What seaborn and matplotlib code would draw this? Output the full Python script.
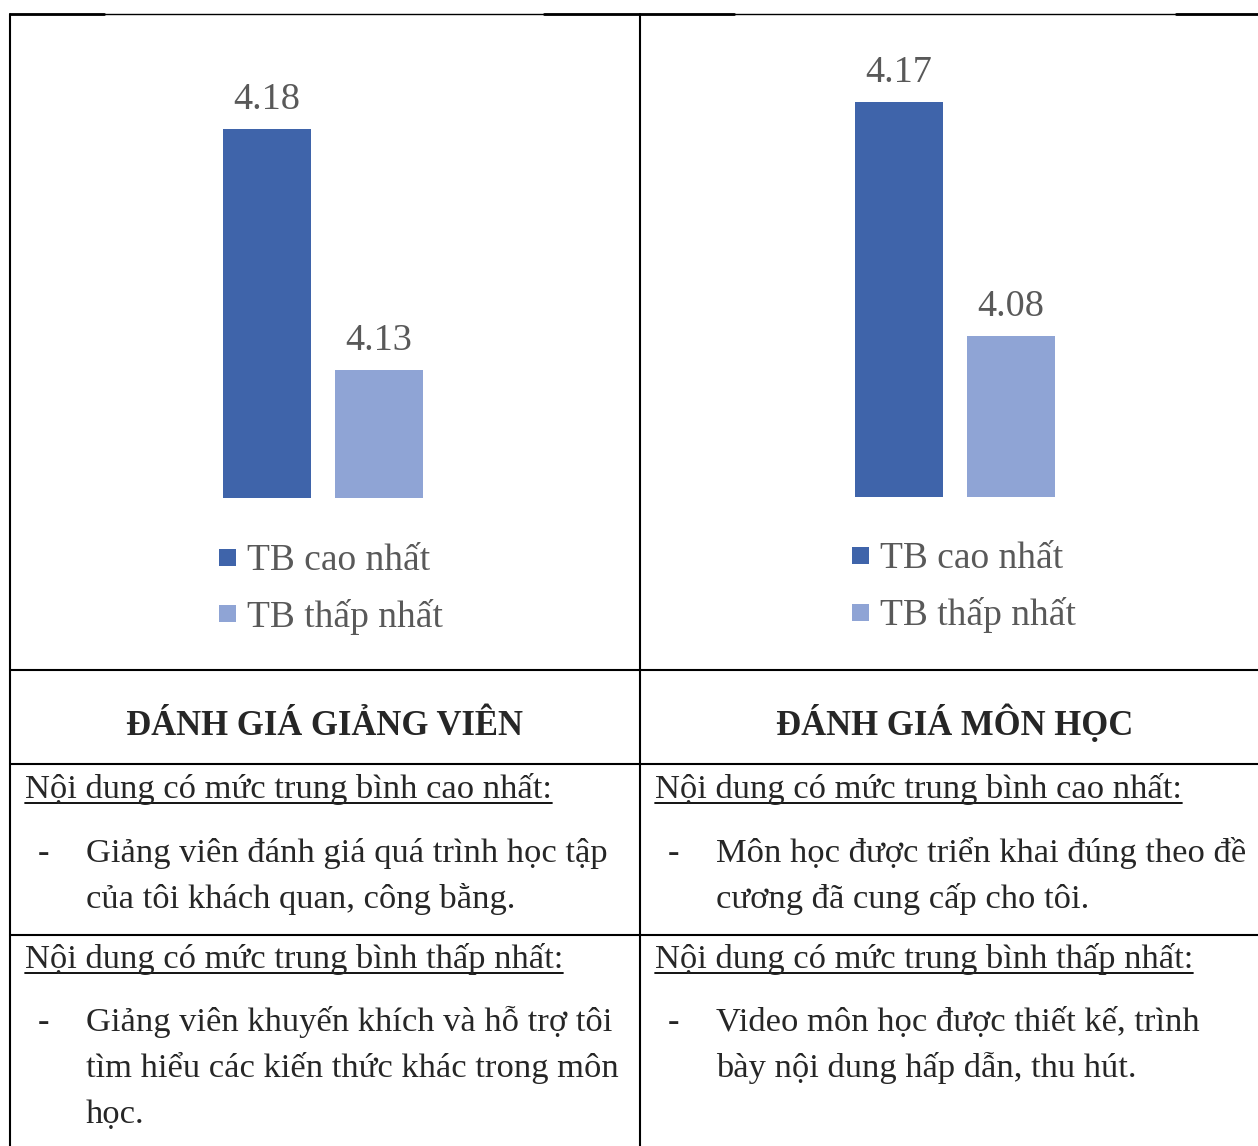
import matplotlib
matplotlib.use("Agg")
import matplotlib.pyplot as plt
import seaborn as sns
import pandas as pd
from matplotlib.patches import Rectangle

# data
series = ["TB cao nhất", "TB thấp nhất"]
gv_values = [4.18, 4.13]   # ĐÁNH GIÁ GIẢNG VIÊN
mh_values = [4.17, 4.08]   # ĐÁNH GIÁ MÔN HỌC
colors = ["#3F64AA", "#8FA4D5"]

titles = ["ĐÁNH GIÁ GIẢNG VIÊN", "ĐÁNH GIÁ MÔN HỌC"]
high_label = "Nội dung có mức trung bình cao nhất:"
low_label = "Nội dung có mức trung bình thấp nhất:"
gv_high = ["Giảng viên đánh giá quá trình học tập", "của tôi khách quan, công bằng."]
gv_low = ["Giảng viên khuyến khích và hỗ trợ tôi", "tìm hiểu các kiến thức khác trong môn", "học."]
mh_high = ["Môn học được triển khai đúng theo đề", "cương đã cung cấp cho tôi."]
mh_low = ["Video môn học được thiết kế, trình", "bày nội dung hấp dẫn, thu hút."]

sns.set_style("white")
plt.rcParams["font.family"] = ["Liberation Serif", "DejaVu Serif"]

W, H = 1258, 1146
fig = plt.figure(figsize=(W / 100, H / 100), dpi=100)

# background axes in pixel units (y down) for the table
bg = fig.add_axes([0, 0, 1, 1])
bg.set_xlim(0, W)
bg.set_ylim(H, 0)
bg.axis("off")

lw = 1.5
bg.plot([10, W], [14, 14], color="black", lw=1.0)
for a, b in [(10, 104), (544, 734), (1176, W)]:
    bg.plot([a, b], [14, 14], color="black", lw=2.0)
for x in [10, 640]:
    bg.plot([x, x], [14, H], color="black", lw=lw)
for y in [670, 764, 935]:
    bg.plot([10, W], [y, y], color="black", lw=lw)


def bar_panel(values, rect, ylim):
    ax = fig.add_axes(rect)
    df = pd.DataFrame({"series": series, "value": values})
    sns.barplot(data=df, x="series", y="value", hue="series", palette=colors,
                saturation=1, width=0.786, linewidth=0, legend=False, ax=ax)
    ax.set_xlim(-1, 2)
    ax.set_ylim(*ylim)
    ax.axis("off")
    ax.patch.set_alpha(0)
    for p in ax.patches:
        h = p.get_height()
        ax.annotate(f"{h:.2f}", (p.get_x() + p.get_width() / 2, h),
                    xytext=(0, 20), textcoords="offset pixels",
                    ha="center", va="baseline", fontsize=27.5, color="#595959")
    return ax


bar_panel(gv_values, [155 / W, (H - 498) / H, 336 / W, 468 / H], (4.1035, 4.2006))
bar_panel(mh_values, [787 / W, (H - 497) / H, 336 / W, 467 / H], (4.018, 4.1976))

# legends
for sx, rows in [(219, [(549, 570), (605, 627)]), (852, [(547, 568), (604, 625)])]:
    for (sq_top, base), name, c in zip(rows, series, colors):
        bg.add_patch(Rectangle((sx, sq_top), 17, 17, color=c, lw=0))
        bg.text(sx + 28, base, name, fontsize=27, color="#595959", va="baseline", ha="left")

# headings
bg.text(325, 735, titles[0], fontsize=24.9, fontweight="bold", ha="center", va="baseline")
bg.text(955, 735, titles[1], fontsize=24.9, fontweight="bold", ha="center", va="baseline")

renderer = fig.canvas.get_renderer()
fs = 24.8


def underlined(x, y, s):
    t = bg.text(x, y, s, fontsize=fs, ha="left", va="baseline")
    bb = t.get_window_extent(renderer=renderer)
    inv = bg.transData.inverted()
    x0 = inv.transform((bb.x0, 0))[0]
    x1 = inv.transform((bb.x1, 0))[0]
    bg.plot([x0, x1], [y + 5, y + 5], color="black", lw=1.3)


def bullet(xcol, y0, lines):
    bg.text(xcol + 28, y0, "-", fontsize=fs, ha="left", va="baseline")
    for i, line in enumerate(lines):
        bg.text(xcol + 76, y0 + 46 * i, line, fontsize=fs, ha="left", va="baseline")


for xcol, hi, lo in [(10, gv_high, gv_low), (640, mh_high, mh_low)]:
    underlined(xcol + 15, 798, high_label)
    bullet(xcol, 862, hi)
    underlined(xcol + 15, 968, low_label)
    bullet(xcol, 1031, lo)

fig.savefig("out.png", dpi=100)
